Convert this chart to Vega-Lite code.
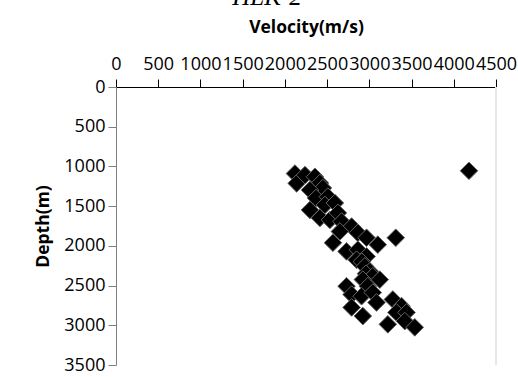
{
  "$schema": "https://vega.github.io/schema/vega-lite/v6.json",
  "autosize": "none",
  "width": 380,
  "height": 278,
  "padding": {"left": 116, "top": 87, "right": 22, "bottom": 12},
  "background": "white",
  "title": {
    "text": "HLK-2",
    "font": "Liberation Serif",
    "fontStyle": "italic",
    "fontWeight": "normal",
    "fontSize": 25,
    "color": "#000000",
    "anchor": "middle",
    "frame": "group",
    "baseline": "alphabetic",
    "dx": -39,
    "offset": 0,
    "dy": 12
  },
  "config": {
    "view": {"stroke": null},
    "axis": {
      "grid": false,
      "labelFont": "Open Sans",
      "labelFontSize": 18,
      "labelColor": "#000000",
      "titleFont": "Open Sans",
      "titleFontSize": 17.5,
      "titleFontWeight": "bold",
      "titleColor": "#000000",
      "tickSize": 8,
      "labelOverlap": false,
      "labelFlush": false
    }
  },
  "data": {
    "values": [
      {"velocity": 2119, "depth": 1090},
      {"velocity": 2139, "depth": 1213},
      {"velocity": 2238, "depth": 1109},
      {"velocity": 2356, "depth": 1130},
      {"velocity": 2415, "depth": 1209},
      {"velocity": 2450, "depth": 1272},
      {"velocity": 2297, "depth": 1297},
      {"velocity": 2368, "depth": 1397},
      {"velocity": 2509, "depth": 1381},
      {"velocity": 2474, "depth": 1485},
      {"velocity": 2592, "depth": 1460},
      {"velocity": 2297, "depth": 1548},
      {"velocity": 2415, "depth": 1648},
      {"velocity": 2533, "depth": 1673},
      {"velocity": 2628, "depth": 1585},
      {"velocity": 2671, "depth": 1694},
      {"velocity": 2790, "depth": 1757},
      {"velocity": 2864, "depth": 1836},
      {"velocity": 2651, "depth": 1819},
      {"velocity": 2569, "depth": 1961},
      {"velocity": 2967, "depth": 1898},
      {"velocity": 3100, "depth": 1985},
      {"velocity": 3313, "depth": 1898},
      {"velocity": 2730, "depth": 2070},
      {"velocity": 2864, "depth": 2049},
      {"velocity": 2967, "depth": 2133},
      {"velocity": 2849, "depth": 2174},
      {"velocity": 2911, "depth": 2199},
      {"velocity": 2947, "depth": 2258},
      {"velocity": 3006, "depth": 2321},
      {"velocity": 2960, "depth": 2350},
      {"velocity": 3041, "depth": 2383},
      {"velocity": 3124, "depth": 2425},
      {"velocity": 2923, "depth": 2425},
      {"velocity": 2982, "depth": 2508},
      {"velocity": 2730, "depth": 2508},
      {"velocity": 2790, "depth": 2613},
      {"velocity": 2908, "depth": 2634},
      {"velocity": 3041, "depth": 2588},
      {"velocity": 3085, "depth": 2713},
      {"velocity": 2790, "depth": 2775},
      {"velocity": 2923, "depth": 2884},
      {"velocity": 3278, "depth": 2675},
      {"velocity": 3381, "depth": 2759},
      {"velocity": 3321, "depth": 2838},
      {"velocity": 3440, "depth": 2838},
      {"velocity": 3219, "depth": 2988},
      {"velocity": 3420, "depth": 2947},
      {"velocity": 3538, "depth": 3026},
      {"velocity": 4180, "depth": 1055}
    ]
  },
  "layer": [
    {
      "mark": {"type": "rule", "color": "#e6e6e6", "strokeWidth": 1},
      "encoding": {"x": {"datum": 4500, "type": "quantitative"}}
    },
    {
      "mark": {
        "type": "point",
        "shape": "diamond",
        "filled": true,
        "size": 310,
        "fill": "#000000",
        "stroke": "#666666",
        "strokeWidth": 1,
        "opacity": 1,
        "fillOpacity": 1
      },
      "encoding": {
        "x": {
          "field": "velocity",
          "type": "quantitative",
          "scale": {"domain": [0, 4500], "nice": false, "zero": false},
          "axis": {
            "orient": "top",
            "values": [0, 500, 1000, 1500, 2000, 2500, 3000, 3500, 4000, 4500],
            "format": "d",
            "domainColor": "#000000",
            "tickColor": "#000000",
            "labelPadding": 6,
            "title": "Velocity(m/s)",
            "titlePadding": 19
          }
        },
        "y": {
          "field": "depth",
          "type": "quantitative",
          "scale": {"domain": [0, 3500], "nice": false, "zero": false, "reverse": true},
          "axis": {
            "orient": "left",
            "values": [0, 500, 1000, 1500, 2000, 2500, 3000, 3500],
            "format": "d",
            "domainColor": "#7f7f7f",
            "tickColor": "#7f7f7f",
            "labelPadding": 3,
            "title": "Depth(m)",
            "titlePadding": 11
          }
        }
      }
    }
  ]
}
